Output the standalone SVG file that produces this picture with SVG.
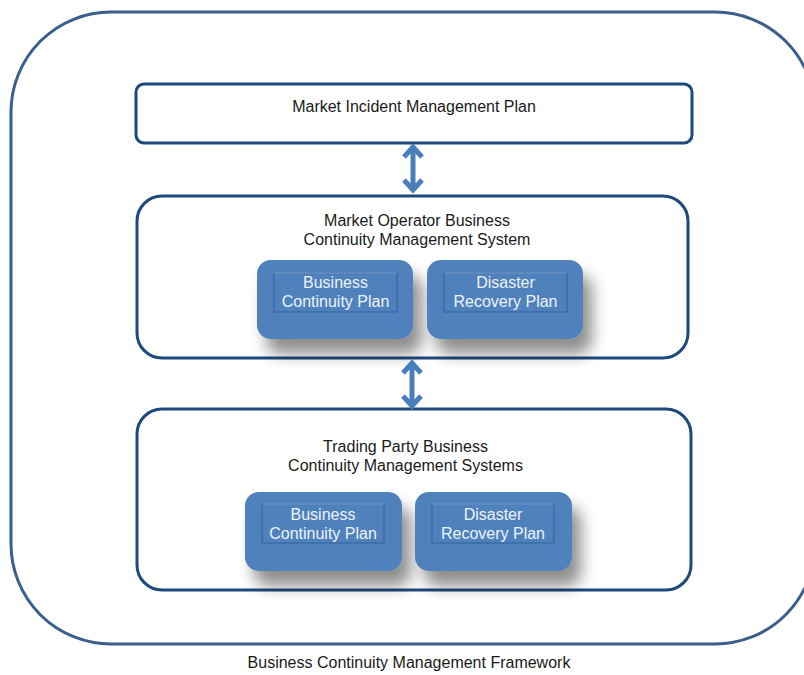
<svg xmlns="http://www.w3.org/2000/svg" width="804" height="675" viewBox="0 0 804 675">
<defs>
<filter id="sh" x="-30%" y="-30%" width="180%" height="200%">
<feGaussianBlur in="SourceAlpha" stdDeviation="8"/>
<feOffset dx="9" dy="15" result="b"/>
<feComponentTransfer><feFuncA type="linear" slope="0.45"/></feComponentTransfer>
<feMerge><feMergeNode/><feMergeNode in="SourceGraphic"/></feMerge>
</filter>
</defs>
<style>
text{font-family:"Liberation Sans",Arial,sans-serif;font-size:16px;text-anchor:middle}
.dark{fill:#1a1a1a}
.light{fill:#eef3fa}
.frame{fill:#ffffff;stroke:#1f497d;stroke-width:3}
.blue{fill:#4f81bd}
.fr{fill:none;stroke:#3a689e;stroke-width:1.2}
.frt{stroke:#7ea2cf;stroke-width:1}
.arr{fill:none;stroke:#4a7ebb;stroke-width:5;stroke-linecap:butt;stroke-linejoin:miter}
</style>
<rect width="804" height="675" fill="#ffffff"/>
<g id="framework">
<rect x="11" y="12" width="804" height="632" rx="100" ry="100" fill="none" stroke="#3a5f8d" stroke-width="3"/>
<text class="dark" x="409" y="668">Business Continuity Management Framework</text>
</g>
<g id="mimp">
<rect class="frame" x="136" y="84" width="556" height="59" rx="8"/>
<text class="dark" x="414" y="112">Market Incident Management Plan</text>
</g>
<g id="mobcms">
<rect class="frame" x="137" y="196" width="551" height="162" rx="25" stroke="#3a6091"/>
<text class="dark" x="417" y="226">Market Operator Business</text>
<text class="dark" x="417" y="245">Continuity Management System</text>
</g>
<g id="mo-bcp">
<rect class="blue" x="257" y="260" width="156" height="79" rx="14" filter="url(#sh)"/>
<rect class="fr" x="274" y="273" width="123" height="39"/>
<line class="frt" x1="274" y1="273" x2="397" y2="273"/>
<text class="light" x="335.5" y="288">Business</text>
<text class="light" x="335.5" y="307">Continuity Plan</text>
</g>
<g id="mo-drp">
<rect class="blue" x="427" y="260" width="156" height="79" rx="14" filter="url(#sh)"/>
<rect class="fr" x="444" y="273" width="123" height="39"/>
<line class="frt" x1="444" y1="273" x2="567" y2="273"/>
<text class="light" x="505.5" y="288">Disaster</text>
<text class="light" x="505.5" y="307">Recovery Plan</text>
</g>
<g id="tpbcms">
<rect class="frame" x="137" y="409" width="554" height="181" rx="25"/>
<text class="dark" x="405.5" y="452">Trading Party Business</text>
<text class="dark" x="405.5" y="471">Continuity Management Systems</text>
</g>
<g id="tp-bcp">
<rect class="blue" x="245" y="492" width="157" height="79" rx="14" filter="url(#sh)"/>
<rect class="fr" x="262" y="504" width="122" height="39"/>
<line class="frt" x1="262" y1="504" x2="384" y2="504"/>
<text class="light" x="323" y="520">Business</text>
<text class="light" x="323" y="539">Continuity Plan</text>
</g>
<g id="tp-drp">
<rect class="blue" x="415" y="492" width="157" height="79" rx="14" filter="url(#sh)"/>
<rect class="fr" x="432" y="504" width="122" height="39"/>
<line class="frt" x1="432" y1="504" x2="554" y2="504"/>
<text class="light" x="493" y="520">Disaster</text>
<text class="light" x="493" y="539">Recovery Plan</text>
</g>
<g id="connectors">
<path class="arr" d="M413 147 V190 M404 157 L413 147 L422 157 M404 180 L413 190 L422 180"/>
<path class="arr" d="M412 363 V406 M403 373 L412 363 L421 373 M403 396 L412 406 L421 396"/>
</g>
</svg>
